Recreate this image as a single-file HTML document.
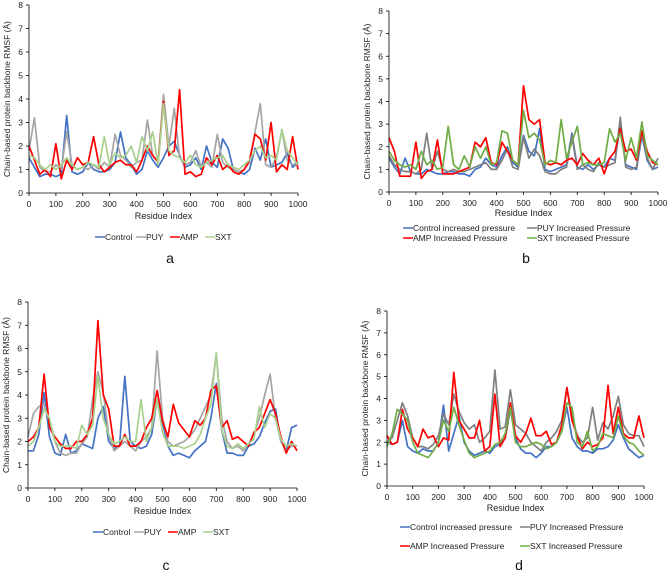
<!DOCTYPE html>
<html><head><meta charset="utf-8"><style>
html,body{margin:0;padding:0;background:#fff;}
svg{display:block;font-family:"Liberation Sans",Arial,sans-serif;}
</style></head><body>
<svg id="fig" width="669" height="571" viewBox="0 0 669 571" xmlns="http://www.w3.org/2000/svg"></svg>
<script>
const residueMax = 1000;
const yTicks = [0,1,2,3,4,5,6,7,8];
const xTicks = [0,100,200,300,400,500,600,700,800,900,1000];

const aControl=[1.5,1.1,0.7,0.8,0.8,0.7,0.8,3.3,0.9,0.8,0.9,1.3,1.0,0.9,0.9,1.0,1.3,2.6,1.5,1.2,0.8,1.0,1.8,1.4,1.1,1.5,2.0,2.2,1.6,1.1,1.2,1.5,1.0,2.0,1.3,1.1,2.3,1.9,1.0,0.9,0.8,1.0,1.9,1.4,2.3,1.1,1.2,1.3,1.7,1.1,1.3];
const aPUY=[1.8,3.2,1.1,0.9,0.9,1.2,1.0,2.6,1.2,1.0,1.1,1.0,1.2,1.0,1.3,1.1,2.5,1.6,1.4,1.1,1.3,1.4,3.1,1.6,1.3,4.2,2.0,3.6,1.5,1.2,1.3,1.8,1.1,1.3,1.1,2.5,1.3,1.1,1.0,0.9,1.0,1.3,2.6,3.8,1.2,1.1,1.5,2.7,1.4,1.2,1.3];
const aAMP=[2.0,1.4,0.8,1.0,0.7,2.1,0.6,1.4,1.0,1.5,1.2,1.3,2.4,1.2,0.9,1.1,1.3,1.4,1.2,1.2,0.9,1.4,2.0,1.6,1.3,3.9,1.6,1.8,4.4,0.8,0.9,0.7,0.8,1.5,1.2,1.6,1.0,1.2,0.9,0.8,1.0,1.4,2.5,2.3,1.4,3.0,0.9,1.2,1.0,2.4,1.0];
const aSXT=[1.6,1.5,1.2,1.0,1.2,1.0,1.2,1.5,1.2,1.0,1.1,1.3,1.2,1.1,2.4,1.2,1.7,1.5,1.6,2.0,1.3,2.4,1.8,2.6,1.2,3.8,1.8,1.6,1.5,1.3,1.6,1.2,1.1,1.3,1.4,1.5,1.6,1.2,1.1,1.0,1.2,1.4,1.8,2.0,1.5,1.6,1.4,2.7,1.8,1.5,1.2];

const bControl=[1.5,1.1,0.8,1.5,0.9,0.8,0.8,1.0,0.9,0.8,0.8,0.9,0.9,0.8,0.8,0.7,1.0,1.1,1.5,1.2,1.1,1.6,2.0,1.3,1.1,2.5,1.8,1.6,2.8,1.0,0.9,1.0,1.1,1.2,2.6,1.1,1.0,1.2,1.0,1.2,1.1,1.5,1.4,3.0,1.2,1.1,1.0,2.5,1.4,1.0,1.1];
const bPUY=[1.6,1.2,1.0,0.9,0.9,0.8,1.0,2.6,1.0,1.8,1.0,0.9,1.0,0.9,0.9,1.0,1.1,1.2,1.3,1.0,1.0,1.4,1.9,1.1,1.0,2.4,1.5,1.9,1.6,0.9,0.8,0.8,1.0,1.1,2.5,1.0,1.2,1.0,0.9,1.3,1.1,1.2,1.3,3.3,1.1,1.0,1.1,2.6,1.5,1.0,1.5];
const bAMP=[2.4,1.8,0.7,0.7,0.7,2.2,0.6,0.9,1.0,2.3,0.8,0.8,0.8,0.9,1.0,1.1,2.2,2.0,2.4,1.3,1.2,2.2,1.8,1.4,1.2,4.7,3.2,3.0,3.2,1.3,1.2,1.3,1.2,1.4,1.5,1.2,1.7,1.4,1.2,1.5,0.8,1.5,1.8,2.8,1.8,1.9,1.4,2.7,1.8,1.3,1.2];
const bSXT=[1.8,1.4,1.2,1.1,1.2,1.0,1.8,1.2,1.4,1.0,1.1,2.9,1.2,1.0,1.6,1.1,2.0,1.5,2.0,1.2,1.3,2.7,2.6,1.4,1.2,3.6,2.4,2.6,2.3,1.2,1.4,1.3,3.2,1.5,2.2,2.9,1.2,1.3,1.2,1.2,1.3,2.8,2.2,2.6,1.4,2.4,1.5,3.1,1.6,1.4,1.2];

const cControl=[1.6,1.6,2.3,4.1,2.2,1.5,1.4,2.3,1.5,1.6,1.9,1.8,1.7,3.0,3.5,2.0,1.7,1.8,4.8,2.0,1.8,1.7,1.8,2.3,3.8,2.8,1.8,1.4,1.5,1.4,1.3,1.6,1.8,2.0,3.0,4.5,2.5,1.5,1.5,1.4,1.4,1.8,1.9,2.2,2.8,3.3,3.4,2.0,1.6,2.6,2.7];
const cPUY=[2.2,3.2,3.5,3.6,2.8,2.0,1.5,1.4,1.5,1.5,1.9,2.2,3.8,5.0,4.1,2.3,1.6,1.8,2.0,1.8,1.6,2.0,2.2,2.6,5.9,3.0,2.0,1.8,1.9,2.0,2.2,2.5,3.0,3.5,4.0,5.8,3.0,2.0,1.7,1.8,1.6,1.9,2.3,3.0,4.0,4.9,3.0,2.0,1.6,1.8,1.8];
const cAMP=[2.0,2.2,2.6,4.9,2.6,2.2,1.9,1.7,1.7,2.0,2.0,2.3,3.0,7.2,4.0,3.4,1.8,1.8,2.3,1.8,1.8,2.0,2.6,3.0,4.2,2.9,2.2,3.6,2.8,2.5,2.2,2.9,2.7,3.0,4.2,4.4,2.6,2.9,2.1,2.2,2.0,1.8,2.4,2.6,3.2,3.8,3.2,2.2,1.5,2.0,1.6];
const cSXT=[1.8,2.0,2.6,3.4,3.0,2.0,1.8,1.8,1.8,1.7,2.7,2.3,2.7,4.8,3.0,2.3,1.9,2.0,2.2,2.0,2.0,3.8,2.0,2.6,3.8,2.4,1.8,1.8,1.8,1.7,1.8,1.9,2.3,3.0,3.6,5.8,2.5,1.8,1.7,1.9,1.7,1.9,2.1,3.5,2.6,3.2,3.0,2.1,1.8,1.9,1.8];

const dControl=[2.0,1.9,2.0,3.0,1.8,1.6,1.5,1.7,1.6,1.6,2.0,3.7,1.6,2.4,3.2,2.0,1.6,1.4,1.5,1.6,1.5,1.8,1.9,2.2,3.5,2.2,1.7,1.5,1.5,1.3,1.5,1.8,1.8,2.0,2.5,3.6,2.2,1.8,1.6,1.6,1.5,1.7,1.7,1.8,2.1,2.8,2.2,1.7,1.5,1.3,1.4];
const dPUY=[2.0,2.2,3.0,3.8,3.2,2.2,1.8,1.8,1.7,1.9,2.3,3.3,2.8,4.2,3.4,2.9,2.6,2.8,2.0,2.2,2.5,5.3,2.6,2.7,4.4,2.8,2.6,2.4,2.0,1.8,1.6,2.0,2.2,2.5,3.0,4.5,3.2,2.3,2.0,2.2,3.6,2.1,2.9,2.6,3.2,4.1,2.8,2.4,2.3,2.3,1.8];
const dAMP=[2.3,1.9,2.0,3.5,2.6,2.2,1.8,2.6,2.2,2.3,1.8,2.2,2.1,5.2,3.0,2.6,2.2,2.2,3.0,1.6,1.8,4.2,1.8,2.2,3.8,2.3,2.0,2.4,3.1,2.3,2.3,2.5,1.9,2.0,2.8,4.5,3.0,2.3,1.7,2.0,1.8,1.9,2.2,4.6,2.4,3.6,2.4,2.2,2.2,3.2,2.2];
const dSXT=[1.8,2.4,3.5,3.3,3.0,2.0,1.5,1.4,1.3,1.6,2.0,3.0,2.5,3.6,2.8,2.1,1.5,1.3,1.4,1.5,1.6,1.9,2.0,2.4,3.6,2.0,1.8,1.8,1.9,2.0,1.9,1.7,1.8,2.0,2.5,3.8,3.6,2.0,1.8,2.5,1.6,1.8,2.4,2.3,2.2,3.2,2.3,2.0,1.9,1.6,1.4];

const labelsAC=["Control","PUY","AMP","SXT"];
const labelsBD=["Control increased pressure","PUY Increased Pressure","AMP Increased Pressure","SXT Increased Pressure"];

const NS="http://www.w3.org/2000/svg";
const svg=document.getElementById('fig');
function el(tag,attrs,parent,text){const e=document.createElementNS(NS,tag);for(const k in attrs)e.setAttribute(k,attrs[k]);if(text!==undefined)e.textContent=text;(parent||svg).appendChild(e);return e;}

const panels=[
 {id:'a',x0:29,x1:298,yTop:5,yBot:193,series:[aControl,aPUY,aAMP,aSXT],colors:['#4472C4','#A5A5A5','#FF0000','#A9D18E'],labels:labelsAC,
  tickY:204,titleY:216,letterX:170,letterY:263,legend:[[95,237],[136,237],[170,237],[205,237]]},
 {id:'b',x0:389,x1:658,yTop:11,yBot:192,series:[bControl,bPUY,bAMP,bSXT],colors:['#4472C4','#7F7F7F','#FF0000','#70AD47'],labels:labelsBD,
  tickY:203,titleY:213,letterX:526,letterY:263,legend:[[403,228],[527,228],[403,238],[527,238]]},
 {id:'c',x0:28,x1:297,yTop:302,yBot:488,series:[cControl,cPUY,cAMP,cSXT],colors:['#4472C4','#A5A5A5','#FF0000','#A9D18E'],labels:labelsAC,
  tickY:499,titleY:511,letterX:166,letterY:570,legend:[[93,532],[134,532],[168,532],[203,532]]},
 {id:'d',x0:387,x1:644,yTop:311,yBot:486,series:[dControl,dPUY,dAMP,dSXT],colors:['#4472C4','#7F7F7F','#FF0000','#70AD47'],labels:labelsBD,
  tickY:497,titleY:508,letterX:519,letterY:570,legend:[[400,527],[520,527],[400,546],[520,546]]}
];
const names=['control','puy','amp','sxt'];

panels.forEach(p=>{
  const g=el('g',{});
  
  
  const xs=v=>p.x0+(v/residueMax)*(p.x1-p.x0);
  const ys=v=>p.yBot-(v/8)*(p.yBot-p.yTop);
  p.series.forEach((arr,si)=>{
    let d='';
    arr.forEach((v,i)=>{const rx=i*residueMax/(arr.length-1);d+=(i?'L':'M')+xs(rx).toFixed(1)+','+ys(v).toFixed(1);});
    const path=el('path',{d:d,fill:'none',stroke:p.colors[si],'stroke-width':1.7,'stroke-linejoin':'round'},g);
    
    
  });
  const ya=el('line',{x1:p.x0,y1:p.yTop,x2:p.x0,y2:p.yBot,stroke:'#000','stroke-width':0.8},g);
  
  
  const xa=el('line',{x1:p.x0,y1:p.yBot,x2:p.x1,y2:p.yBot,stroke:'#000','stroke-width':0.8},g);
  
  
  yTicks.forEach(t=>{
    el('line',{x1:p.x0-3,y1:ys(t),x2:p.x0,y2:ys(t),stroke:'#000','stroke-width':0.8},g);
    const tl=el('text',{x:p.x0-6,y:ys(t)+3,'font-size':8.5,'text-anchor':'end',fill:'#222'},g,String(t));
    
    
  });
  xTicks.forEach(t=>{
    el('line',{x1:xs(t),y1:p.yBot,x2:xs(t),y2:p.yBot+3,stroke:'#000','stroke-width':0.8},g);
    const tl=el('text',{x:xs(t),y:p.tickY+3,'font-size':8.5,'text-anchor':'middle',fill:'#222'},g,String(t));
    
    
  });
  const xt=el('text',{x:(p.x0+p.x1)/2,y:p.titleY+3,'font-size':9,'text-anchor':'middle',fill:'#222'},g,'Residue Index');
  
  
  const yc=(p.yTop+p.yBot)/2, yx=p.x0-19;
  const yt=el('text',{x:yx,y:yc,'font-size':8.5,'text-anchor':'middle',fill:'#222',transform:'rotate(-90 '+yx+' '+yc+')'},g,'Chain-based protein backbone RMSF (Å)');
  
  
  p.legend.forEach((pos,si)=>{
    const lg=el('g',{},g);
    
    
    el('line',{x1:pos[0],y1:pos[1],x2:pos[0]+10,y2:pos[1],stroke:p.colors[si],'stroke-width':1.5},lg);
    el('text',{x:pos[0]+10,y:pos[1]+3,'font-size':8.5,fill:'#222'},lg,p.labels[si]);
  });
  const lt=el('text',{x:p.letterX,y:p.letterY,'font-size':14,'text-anchor':'middle',fill:'#111'},g,p.id);
  
  
});
</script>
</body></html>
